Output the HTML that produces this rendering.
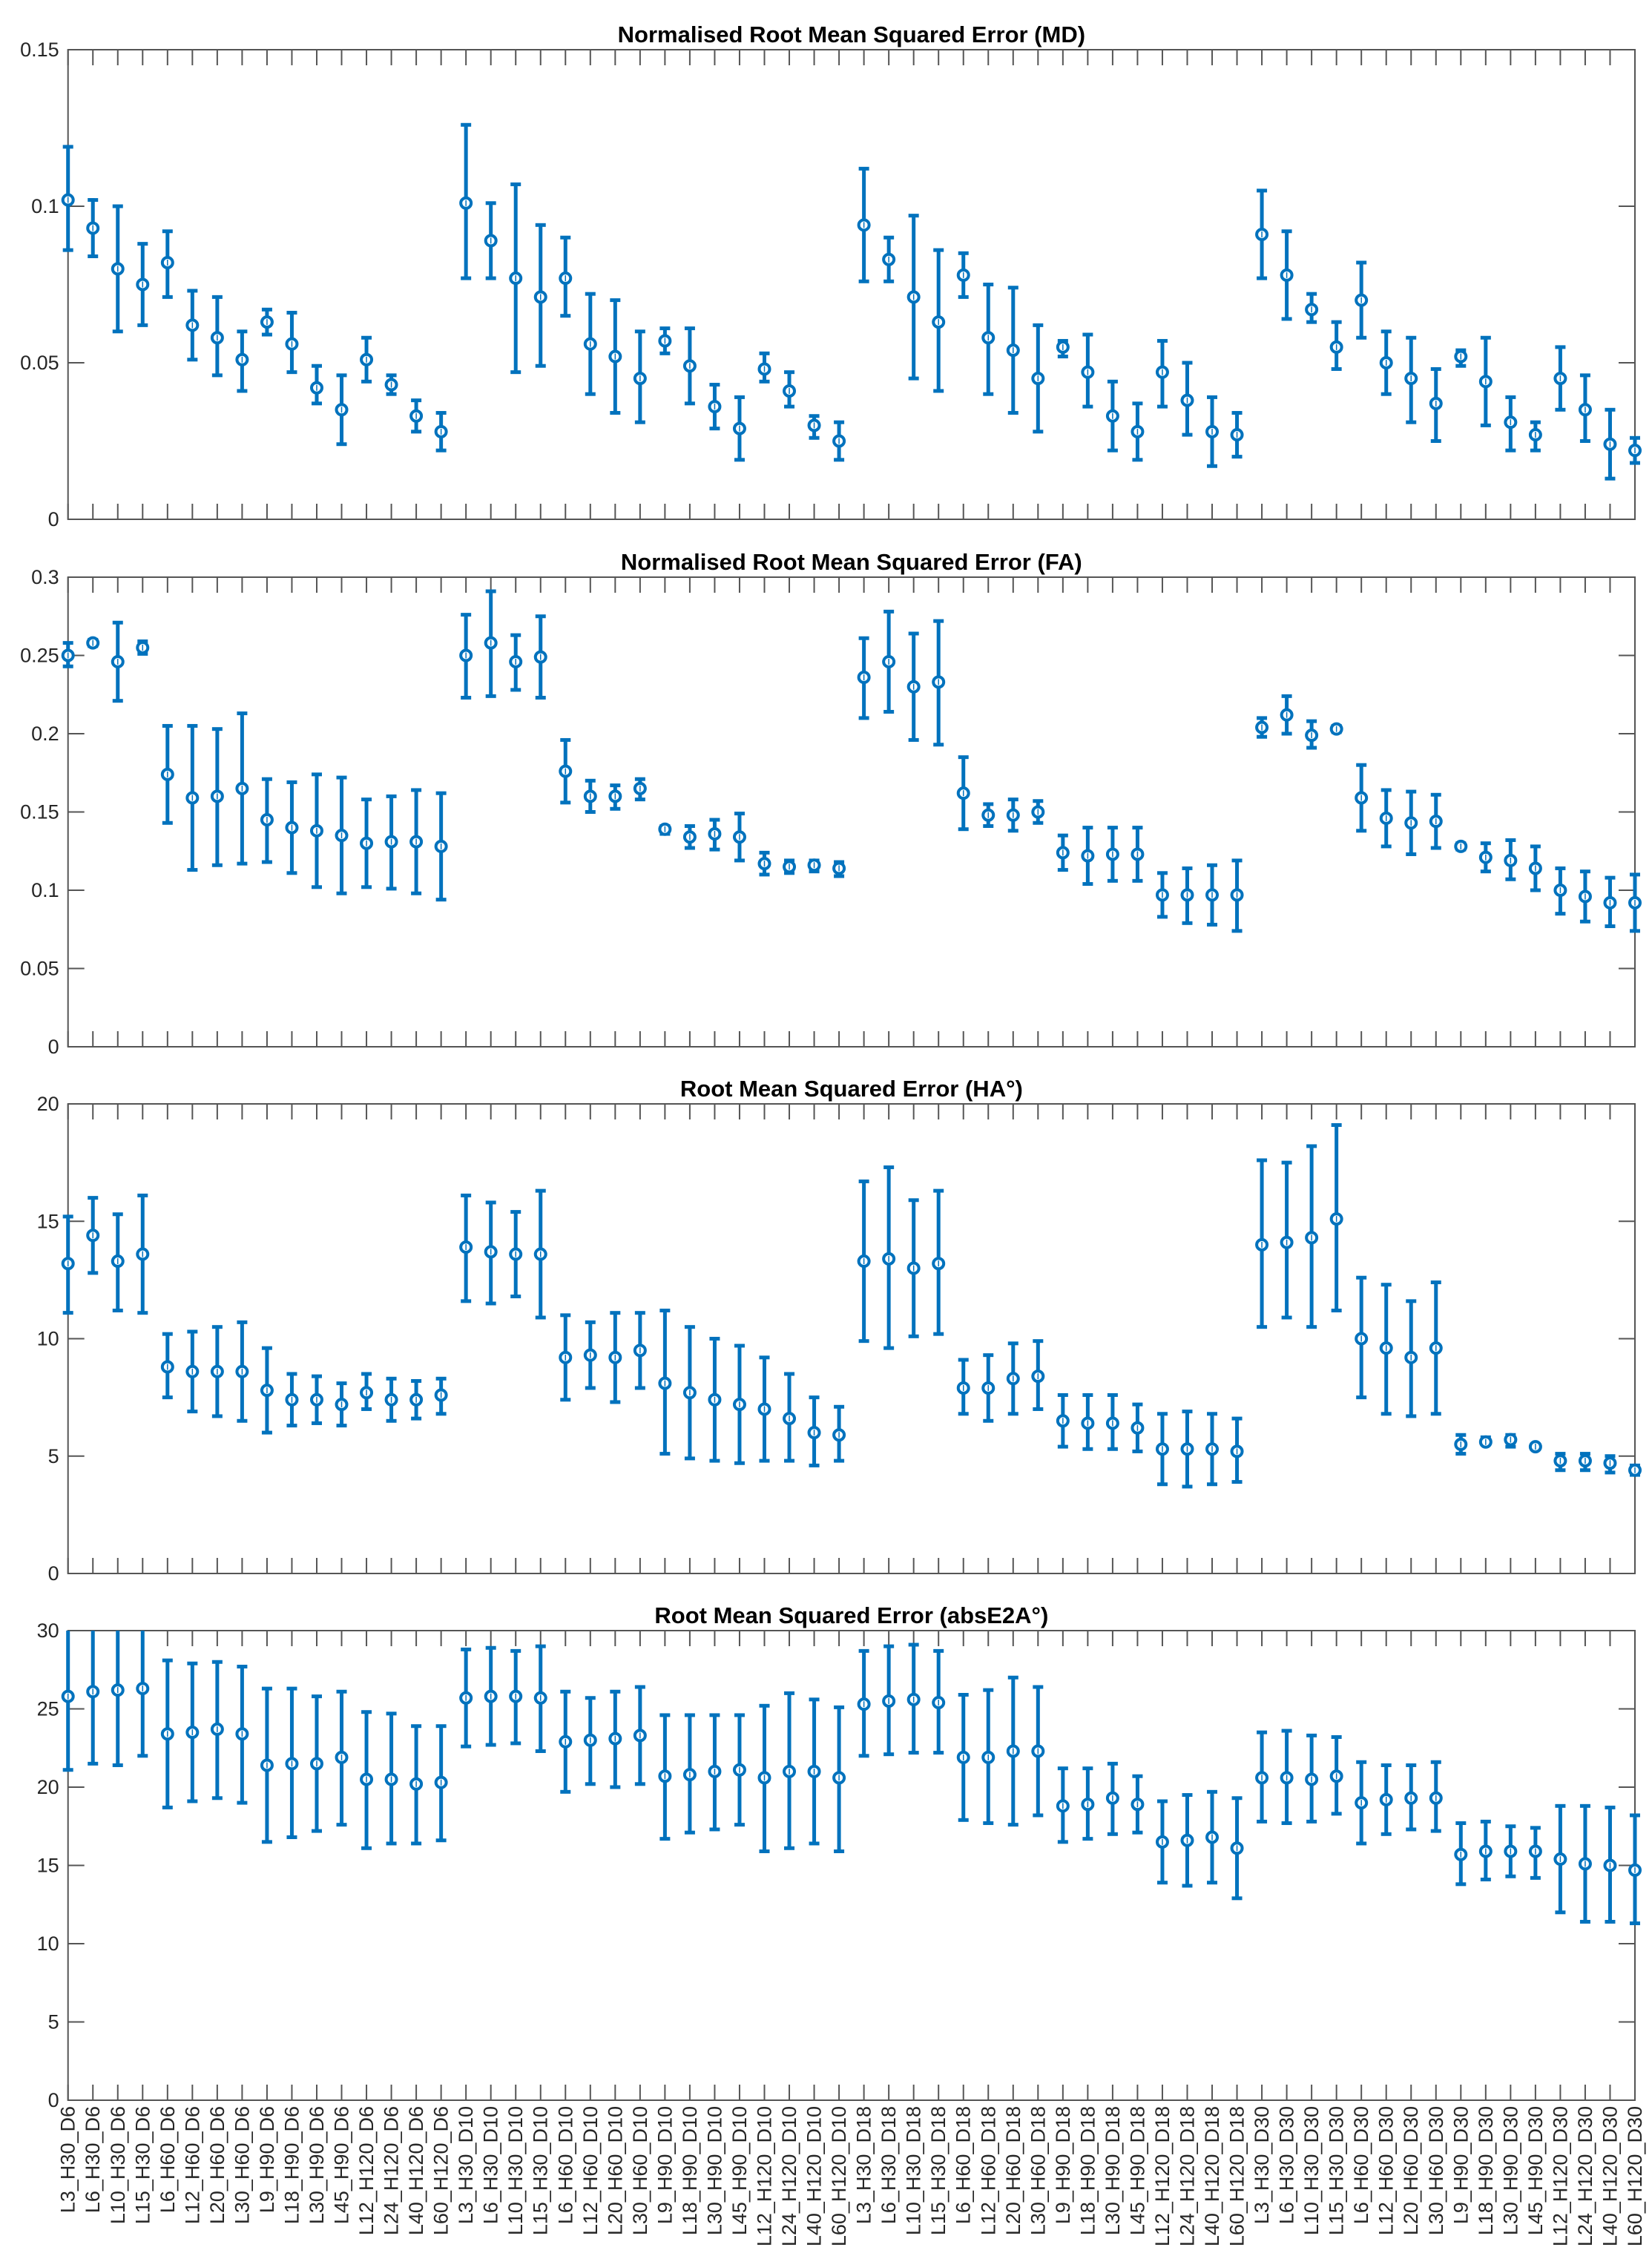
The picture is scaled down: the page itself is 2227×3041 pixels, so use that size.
<!DOCTYPE html>
<html><head><meta charset="utf-8"><style>
html,body{margin:0;padding:0;background:#fff}
svg{display:block}
text{font-family:"Liberation Sans",sans-serif;fill:#262626}
</style></head><body>
<svg id="chart" width="2227" height="3041" viewBox="0 0 2227 3041" xmlns="http://www.w3.org/2000/svg"></svg>
<script>
const comboLabels=["L3_H30","L6_H30","L10_H30","L15_H30","L6_H60","L12_H60","L20_H60","L30_H60","L9_H90","L18_H90","L30_H90","L45_H90","L12_H120","L24_H120","L40_H120","L60_H120"];
const dLabels=["D6","D10","D18","D30"];
const titles=["Normalised Root Mean Squared Error (MD)","Normalised Root Mean Squared Error (FA)","Root Mean Squared Error (HA°)","Root Mean Squared Error (absE2A°)"];
const yMaxes=[0.15,0.3,20,30];
const yTicks1=[0,0.05,0.1,0.15];
const yTicks2=[0,0.05,0.1,0.15,0.2,0.25,0.3];
const yTicks3=[0,5,10,15,20];
const yTicks4=[0,5,10,15,20,25,30];
const yTickLabels1=["0","0.05","0.1","0.15"];
const yTickLabels2=["0","0.05","0.1","0.15","0.2","0.25","0.3"];
const yTickLabels3=["0","5","10","15","20"];
const yTickLabels4=["0","5","10","15","20","25","30"];
// MD
const mdMean=[0.102,0.093,0.080,0.075,0.082,0.062,0.058,0.051,0.063,0.056,0.042,0.035,0.051,0.043,0.033,0.028,
0.101,0.089,0.077,0.071,0.077,0.056,0.052,0.045,0.057,0.049,0.036,0.029,0.048,0.041,0.030,0.025,
0.094,0.083,0.071,0.063,0.078,0.058,0.054,0.045,0.055,0.047,0.033,0.028,0.047,0.038,0.028,0.027,
0.091,0.078,0.067,0.055,0.070,0.050,0.045,0.037,0.052,0.044,0.031,0.027,0.045,0.035,0.024,0.022];
const mdHi=[0.119,0.102,0.100,0.088,0.092,0.073,0.071,0.060,0.067,0.066,0.049,0.046,0.058,0.046,0.038,0.034,
0.126,0.101,0.107,0.094,0.090,0.072,0.070,0.060,0.061,0.061,0.043,0.039,0.053,0.047,0.033,0.031,
0.112,0.090,0.097,0.086,0.085,0.075,0.074,0.062,0.057,0.059,0.044,0.037,0.057,0.050,0.039,0.034,
0.105,0.092,0.072,0.063,0.082,0.060,0.058,0.048,0.054,0.058,0.039,0.031,0.055,0.046,0.035,0.026];
const mdLo=[0.086,0.084,0.060,0.062,0.071,0.051,0.046,0.041,0.059,0.047,0.037,0.024,0.044,0.040,0.028,0.022,
0.077,0.077,0.047,0.049,0.065,0.040,0.034,0.031,0.053,0.037,0.029,0.019,0.044,0.036,0.026,0.019,
0.076,0.076,0.045,0.041,0.071,0.040,0.034,0.028,0.052,0.036,0.022,0.019,0.036,0.027,0.017,0.020,
0.077,0.064,0.063,0.048,0.058,0.040,0.031,0.025,0.049,0.030,0.022,0.022,0.035,0.025,0.013,0.018];
// FA
const faMean=[0.250,0.258,0.246,0.255,0.174,0.159,0.160,0.165,0.145,0.140,0.138,0.135,0.130,0.131,0.131,0.128,
0.250,0.258,0.246,0.249,0.176,0.160,0.160,0.165,0.139,0.134,0.136,0.134,0.117,0.115,0.116,0.114,
0.236,0.246,0.230,0.233,0.162,0.148,0.148,0.150,0.124,0.122,0.123,0.123,0.097,0.097,0.097,0.097,
0.204,0.212,0.199,0.203,0.159,0.146,0.143,0.144,0.128,0.121,0.119,0.114,0.100,0.096,0.092,0.092];
const faHi=[0.258,0.260,0.271,0.259,0.205,0.205,0.203,0.213,0.171,0.169,0.174,0.172,0.158,0.160,0.164,0.162,
0.276,0.291,0.263,0.275,0.196,0.170,0.167,0.171,0.141,0.141,0.145,0.149,0.124,0.119,0.119,0.118,
0.261,0.278,0.264,0.272,0.185,0.155,0.158,0.157,0.135,0.140,0.140,0.140,0.111,0.114,0.116,0.119,
0.210,0.224,0.208,0.205,0.180,0.164,0.163,0.161,0.130,0.130,0.132,0.128,0.114,0.112,0.108,0.110];
const faLo=[0.243,0.256,0.221,0.251,0.143,0.113,0.116,0.117,0.118,0.111,0.102,0.098,0.102,0.101,0.098,0.094,
0.223,0.224,0.228,0.223,0.156,0.150,0.152,0.158,0.136,0.127,0.126,0.119,0.110,0.111,0.112,0.109,
0.210,0.214,0.196,0.193,0.139,0.141,0.138,0.143,0.113,0.104,0.106,0.106,0.083,0.079,0.078,0.074,
0.198,0.200,0.191,0.201,0.138,0.128,0.123,0.127,0.126,0.112,0.107,0.100,0.085,0.080,0.077,0.074];
// HA
const haMean=[13.2,14.4,13.3,13.6,8.8,8.6,8.6,8.6,7.8,7.4,7.4,7.2,7.7,7.4,7.4,7.6,
13.9,13.7,13.6,13.6,9.2,9.3,9.2,9.5,8.1,7.7,7.4,7.2,7.0,6.6,6.0,5.9,
13.3,13.4,13.0,13.2,7.9,7.9,8.3,8.4,6.5,6.4,6.4,6.2,5.3,5.3,5.3,5.2,
14.0,14.1,14.3,15.1,10.0,9.6,9.2,9.6,5.5,5.6,5.7,5.4,4.8,4.8,4.7,4.4];
const haHi=[15.2,16.0,15.3,16.1,10.2,10.3,10.5,10.7,9.6,8.5,8.4,8.1,8.5,8.3,8.2,8.3,
16.1,15.8,15.4,16.3,11.0,10.7,11.1,11.1,11.2,10.5,10.0,9.7,9.2,8.5,7.5,7.1,
16.7,17.3,15.9,16.3,9.1,9.3,9.8,9.9,7.6,7.6,7.6,7.2,6.8,6.9,6.8,6.6,
17.6,17.5,18.2,19.1,12.6,12.3,11.6,12.4,5.9,5.8,5.9,5.5,5.1,5.1,5.0,4.6];
const haLo=[11.1,12.8,11.2,11.1,7.5,6.9,6.7,6.5,6.0,6.3,6.4,6.3,7.0,6.5,6.6,6.8,
11.6,11.5,11.8,10.9,7.4,7.9,7.3,7.9,5.1,4.9,4.8,4.7,4.8,4.8,4.6,4.8,
9.9,9.6,10.1,10.2,6.8,6.5,6.8,7.0,5.4,5.3,5.3,5.2,3.8,3.7,3.8,3.9,
10.5,10.9,10.5,11.2,7.5,6.8,6.7,6.8,5.1,5.5,5.4,5.3,4.4,4.4,4.3,4.2];
// absE2A
const e2aMean=[25.8,26.1,26.2,26.3,23.4,23.5,23.7,23.4,21.4,21.5,21.5,21.9,20.5,20.5,20.2,20.3,
25.7,25.8,25.8,25.7,22.9,23.0,23.1,23.3,20.7,20.8,21.0,21.1,20.6,21.0,21.0,20.6,
25.3,25.5,25.6,25.4,21.9,21.9,22.3,22.3,18.8,18.9,19.3,18.9,16.5,16.6,16.8,16.1,
20.6,20.6,20.5,20.7,19.0,19.2,19.3,19.3,15.7,15.9,15.9,15.9,15.4,15.1,15.0,14.7];
const e2aHi=[30.4,30.8,31.0,30.7,28.1,27.9,28.0,27.7,26.3,26.3,25.8,26.1,24.8,24.7,23.9,23.9,
28.8,28.9,28.7,29.0,26.1,25.7,26.1,26.4,24.6,24.6,24.6,24.6,25.2,26.0,25.6,25.1,
28.7,29.0,29.1,28.7,25.9,26.2,27.0,26.4,21.2,21.2,21.5,20.7,19.1,19.5,19.7,19.3,
23.5,23.6,23.3,23.2,21.6,21.4,21.4,21.6,17.7,17.8,17.5,17.4,18.8,18.8,18.7,18.2];
const e2aLo=[21.1,21.5,21.4,22.0,18.7,19.1,19.3,19.0,16.5,16.8,17.2,17.6,16.1,16.4,16.4,16.6,
22.6,22.7,22.8,22.3,19.7,20.2,20.0,20.2,16.7,17.1,17.3,17.6,15.9,16.1,16.4,15.9,
22.0,22.1,22.2,22.2,17.9,17.7,17.6,18.2,16.5,16.7,17.0,17.1,13.9,13.7,13.9,12.9,
17.8,17.7,17.8,18.3,16.4,17.0,17.3,17.2,13.8,14.1,14.3,14.2,12.0,11.4,11.4,11.3];

const NS="http://www.w3.org/2000/svg";
const svg=document.getElementById('chart');
const L=91.7,R=2204,PH=633,tops=[67,778,1488,2198];
const N=64;
const categories=[];
dLabels.forEach(d=>comboLabels.forEach(c=>categories.push(c+"_"+d)));
function xs(i){return L+(R-L)*i/(N-1);}
function mk(tag,attrs,parent){const e=document.createElementNS(NS,tag);for(const k in attrs)e.setAttribute(k,attrs[k]);(parent||svg).appendChild(e);return e;}
const panels=[
 {mean:mdMean,hi:mdHi,lo:mdLo,ticks:yTicks1,tl:yTickLabels1,name:'md'},
 {mean:faMean,hi:faHi,lo:faLo,ticks:yTicks2,tl:yTickLabels2,name:'fa'},
 {mean:haMean,hi:haHi,lo:haLo,ticks:yTicks3,tl:yTickLabels3,name:'ha'},
 {mean:e2aMean,hi:e2aHi,lo:e2aLo,ticks:yTicks4,tl:yTickLabels4,name:'abse2a'}];
const blue="#0072BD";
panels.forEach((p,pi)=>{
  const T=tops[pi],B=T+PH,ym=yMaxes[pi];
  const ys=v=>B-(v/ym)*PH;
  const g=mk('g',{});
  
  
  const cp=mk('clipPath',{id:'clip'+pi},g);
  mk('rect',{x:L-20,y:T,width:R-L+40,height:PH},cp);
  const t=mk('text',{x:(L+R)/2,y:T-10,'text-anchor':'middle','font-size':31,'font-weight':'bold',fill:'#000'},g);
  
  
  t.style.fill='#000';
  t.textContent=titles[pi];
  // axes ticks
  const ax=mk('g',{stroke:'#555','stroke-width':2},g);
  
  
  for(let i=0;i<N;i++){const x=xs(i);
    mk('line',{x1:x,y1:T,x2:x,y2:T+21},ax);
    mk('line',{x1:x,y1:B,x2:x,y2:B-21},ax);}
  p.ticks.forEach((v,k)=>{const y=ys(v);
    mk('line',{x1:L,y1:y,x2:L+22,y2:y},ax);
    mk('line',{x1:R,y1:y,x2:R-22,y2:y},ax);
    const tl=mk('text',{x:L-12,y:y+9,'text-anchor':'end','font-size':27},g);
    
    
    tl.textContent=p.tl[k];});
  mk('rect',{x:L,y:T,width:R-L,height:PH,fill:'none'},ax);
  // series
  const sg=mk('g',{'clip-path':'url(#clip'+pi+')'},g);
  
  
  for(let i=0;i<N;i++){
    const x=xs(i),yh=ys(p.hi[i]),yl=ys(p.lo[i]),y=ys(p.mean[i]);
    const e=mk('g',{},sg);
    
    
    mk('line',{x1:x,y1:yh,x2:x,y2:yl,stroke:blue,'stroke-width':5},e);
    mk('line',{x1:x-7,y1:yh,x2:x+7,y2:yh,stroke:blue,'stroke-width':5},e);
    mk('line',{x1:x-7,y1:yl,x2:x+7,y2:yl,stroke:blue,'stroke-width':5},e);
    mk('circle',{cx:x,cy:y,r:7,fill:'#fff',stroke:blue,'stroke-width':4},e);
    mk('line',{x1:x,y1:y-4,x2:x,y2:y+4,stroke:blue,'stroke-width':1.5},e);
  }
});
// x tick labels on bottom panel
const B4=tops[3]+PH;
categories.forEach((c,i)=>{
  const x=xs(i);
  const t=mk('text',{x:0,y:0,'text-anchor':'end','font-size':27,transform:`translate(${x+9},${B4+8}) rotate(-90)`});
  
  
  t.textContent=c;
});
</script>
</body></html>
